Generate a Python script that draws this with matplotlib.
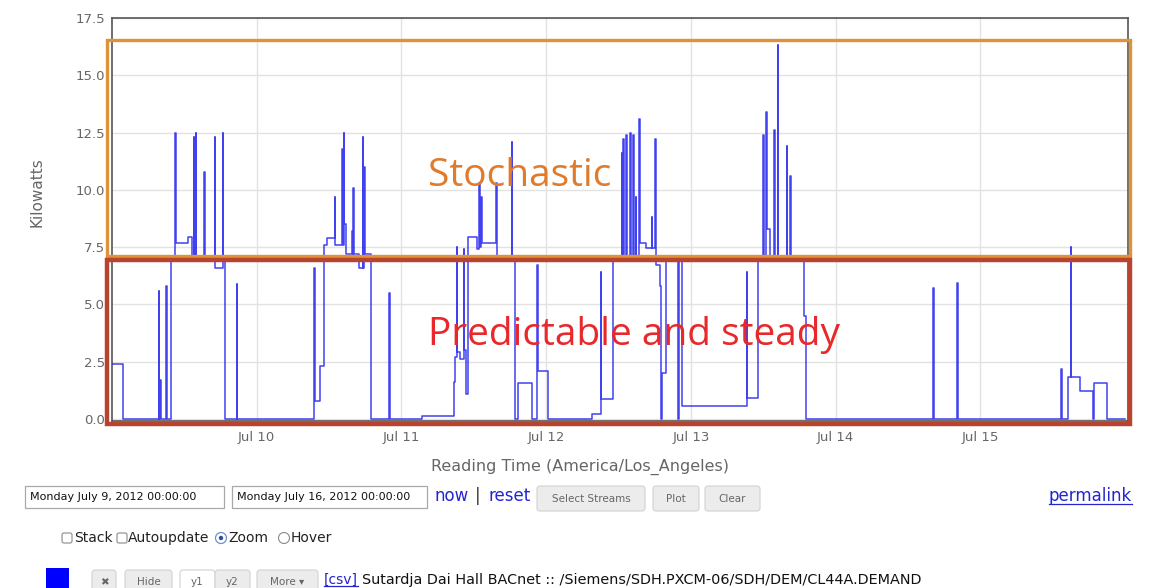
import matplotlib
matplotlib.use('Agg')
import matplotlib.pyplot as plt
import matplotlib.dates as mdates
from matplotlib.patches import Rectangle, FancyBboxPatch, Circle
import pandas as pd

# step changes of the demand reading: hours after Mon Jul 9 2012 00:00 -> kW held from then on
hours = [0.0, 1.87,
         7.75, 7.85, 7.95, 8.05, 9.0, 9.1, 9.79, 10.5, 10.6, 12.56, 13.27,
         13.52, 13.62, 13.85, 13.95, 15.31, 15.41, 17.03, 17.13, 18.36, 18.46,
         18.82, 20.65, 20.75,
         # Jul 10
         33.55, 33.65, 34.55, 35.21, 35.61, 36.94, 37.04, 38.15, 38.25,
         38.43, 38.53, 38.8, 39.81, 39.91, 39.97, 40.07, 41.02,
         41.58, 41.68, 41.8, 41.9, 42.96, 45.99, 46.09,
         # Jul 11
         51.37, 56.72, 56.89, 57.17, 57.27, 57.72, 58.3, 58.4, 58.71, 59.1,
         60.54, 60.93, 61.03, 61.21, 61.31, 63.69, 63.79, 66.29, 66.39,
         66.84, 67.39, 69.61, 70.54, 70.64, 72.36,
         # Jul 12
         79.56, 81.05, 81.15, 83.14,
         84.54, 84.64, 84.81, 84.91, 85.25, 85.35, 85.92, 86.02,
         86.46, 86.56, 86.83, 86.93, 87.46, 87.56, 88.57, 89.51, 89.61,
         90.06, 90.16, 90.89, 91.0, 91.27, 91.83, 93.83, 94.09, 94.59,
         # Jul 13
         105.27, 105.37, 107.19, 108.02, 108.12, 108.47, 108.57, 109.1,
         109.85, 109.95, 110.41, 110.51, 111.9, 112.0, 112.45, 112.55,
         114.77, 115.02,
         # Jul 14 - 15
         136.22, 136.32, 140.2, 140.3, 157.4, 157.5,
         158.61, 159.01, 159.11, 160.55, 162.62, 162.87, 165.08, 168.0]
kw = [2.4, 0.0,
      5.6, 0.0, 1.7, 0.0, 5.8, 0.0, 6.9, 12.5, 7.7, 7.95, 7.1,
      12.3, 7.1, 12.5, 7.1, 10.8, 7.1, 12.3, 6.6, 12.5, 7.0,
      0.0, 5.9, 0.0,
      6.6, 0.8, 2.3, 7.6, 7.9, 9.7, 7.6, 11.8, 7.6,
      12.5, 8.5, 7.2, 8.2, 7.2, 10.1, 7.2, 6.6,
      12.3, 6.6, 11.0, 7.2, 0.0, 5.5, 0.0,
      0.13, 1.6, 2.7, 7.5, 2.9, 2.6, 7.4, 3.0, 1.1, 7.95,
      7.4, 10.3, 7.5, 9.7, 7.7, 10.3, 7.0, 12.1, 7.0,
      0.0, 1.55, 0.0, 6.7, 2.1, 0.0,
      0.2, 6.4, 0.85, 7.0,
      11.6, 7.1, 12.2, 7.1, 12.4, 7.1, 12.5, 7.1,
      12.4, 7.1, 9.7, 7.1, 13.1, 7.7, 7.45, 8.8, 7.45,
      12.2, 6.7, 5.8, 0.0, 2.0, 7.0, 0.0, 7.0, 0.55,
      6.4, 0.9, 7.1, 12.4, 7.1, 13.4, 8.3, 7.1,
      12.6, 7.1, 16.3, 7.1, 11.9, 7.1, 10.6, 7.1,
      4.5, 0.0,
      5.7, 0.0, 5.95, 0.0, 2.2, 0.0,
      1.85, 7.5, 1.85, 1.2, 0.0, 1.55, 0.0, 0.0]

y_ticks = [0.0, 2.5, 5.0, 7.5, 10.0, 12.5, 15.0, 17.5]
start_text = 'Monday July 9, 2012 00:00:00'
end_text = 'Monday July 16, 2012 00:00:00'
stream_name = 'Sutardja Dai Hall BACnet :: /Siemens/SDH.PXCM-06/SDH/DEM/CL44A.DEMAND'

W, H = 1149, 588
start = pd.Timestamp('2012-07-09')
times = start + pd.to_timedelta(hours, unit='h')
t0 = mdates.date2num(start)

fig = plt.figure(figsize=(W / 100, H / 100), dpi=100)
ax = fig.add_axes([112 / W, 1 - 421 / H, (1128 - 112) / W, (421 - 18) / H])

ax.plot(times, kw, drawstyle='steps-post', color='#2020ee', lw=1.1, alpha=0.85, zorder=3)

ax.set_xlim(start, start + pd.Timedelta(hours=168.5))
ax.set_ylim(-0.09, 17.5)
ax.set_yticks(y_ticks)
ax.set_yticklabels(['%.1f' % v for v in y_ticks])
ax.xaxis.set_major_locator(mdates.DayLocator(bymonthday=range(10, 16)))
ax.xaxis.set_major_formatter(mdates.DateFormatter('%b %d'))
ax.grid(True, color='#e2e2e2', lw=1.0, zorder=0)
ax.tick_params(length=0, labelsize=9.5, labelcolor='#666666')
ax.tick_params(axis='y', pad=5)
ax.tick_params(axis='x', pad=7)
for s in ax.spines.values():
    s.set_color('#555555')
    s.set_linewidth(1.2)

ax.set_xlabel('Reading Time (America/Los_Angeles)', fontsize=11.5, color='#666666')
ax.set_ylabel('Kilowatts', fontsize=11, color='#666666')
ax.xaxis.set_label_coords(0.4606, -0.094)
ax.yaxis.set_label_coords(-0.066, 0.568)

# annotation boxes around the two regimes
ax.add_patch(Rectangle((t0 - 0.037, 7.12), 7.073, 16.53 - 7.12, fill=False,
                       ec='#df9238', lw=2.4, clip_on=False, zorder=6))
ax.add_patch(Rectangle((t0 - 0.037, -0.22), 7.073, 6.95 + 0.22, fill=False,
                       ec='#b8432f', lw=3.2, clip_on=False, zorder=7))
ax.text(t0 + 52.4 / 24, 10.16, 'Stochastic', color='#e07b2c', fontsize=28,
        family='Open Sans', va='baseline', zorder=8)
ax.text(t0 + 52.4 / 24, 3.23, 'Predictable and steady', color='#e8282a', fontsize=28,
        family='Open Sans', va='baseline', zorder=8)

# page controls below the chart, in pixel coordinates
ui = fig.add_axes([0, 0, 1, 1])
ui.set_zorder(-1)
ui.set_xlim(0, W)
ui.set_ylim(H, 0)
ui.axis('off')


def textbox(x0, x1, y0, y1, label):
    ui.add_patch(Rectangle((x0, y0), x1 - x0, y1 - y0, fc='white', ec='#a8a8a8', lw=0.9))
    ui.text(x0 + 5, (y0 + y1) / 2, label, fontsize=8, color='#111111', va='center')


def button(x0, x1, y0, y1, label, fc='#ececec', fs=7.5):
    ui.add_patch(FancyBboxPatch((x0, y0), x1 - x0, y1 - y0, boxstyle='round,pad=0,rounding_size=3',
                                fc=fc, ec='#d2d2d2', lw=0.8))
    ui.text((x0 + x1) / 2, (y0 + y1) / 2, label, fontsize=fs, color='#666666',
            ha='center', va='center')


def link(x, y, label, fs=12, underline=False):
    t = ui.text(x, y, label, fontsize=fs, color='#2424d0', va='center')
    if underline:
        fig.canvas.draw()
        bb = t.get_window_extent().transformed(ui.transData.inverted())
        ui.plot([bb.x0, bb.x1], [bb.y0 - 1, bb.y0 - 1], color='#2424d0', lw=0.9)
    return t


textbox(25, 224, 486, 508, start_text)
textbox(232, 427, 486, 508, end_text)
link(434, 496, 'now')
ui.text(475, 496, '|', fontsize=12, color='#333333', va='center')
link(488, 496, 'reset')
button(537, 645, 486, 511, 'Select Streams')
button(653, 699, 486, 511, 'Plot')
button(705, 760, 486, 511, 'Clear')
link(1049, 496, 'permalink', underline=True)

# checkbox row
for x0 in (62, 117):
    ui.add_patch(FancyBboxPatch((x0, 533), 10, 10, boxstyle='round,pad=0,rounding_size=2',
                                fc='white', ec='#8a8a8a', lw=0.8))
ui.add_patch(Circle((221, 538), 5.5, fc='white', ec='#6f8fc8', lw=0.9))
ui.add_patch(Circle((221, 538), 2.2, fc='#2a4fa0', ec='none'))
ui.add_patch(Circle((284, 538), 5.5, fc='white', ec='#8a8a8a', lw=0.8))
for x, lab in ((74, 'Stack'), (128, 'Autoupdate'), (228, 'Zoom'), (291, 'Hover')):
    ui.text(x, 538, lab, fontsize=10, color='#222222', va='center')

# stream row
ui.add_patch(Rectangle((46, 568), 23, 22, fc='#0000ff', ec='none'))
button(92, 116, 570, 594, '\u2716')
button(125, 172, 570, 594, 'Hide')
button(180, 215, 570, 594, 'y1', fc='white')
button(215, 250, 570, 594, 'y2')
button(257, 318, 570, 594, 'More \u25be')
link(324, 580, '[csv]', fs=10, underline=True)
ui.text(362, 580, stream_name, fontsize=10.4, color='#111111', va='center')

fig.savefig('out.png', dpi=100, facecolor='white')
